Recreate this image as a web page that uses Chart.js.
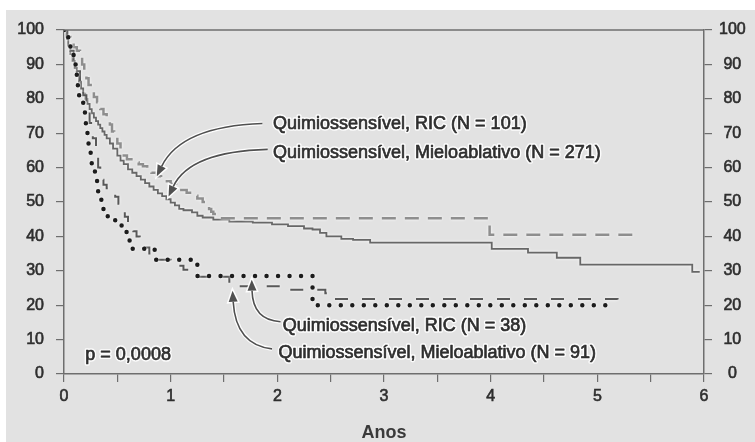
<!DOCTYPE html>
<html><head><meta charset="utf-8">
<script src="https://cdn.jsdelivr.net/npm/chart.js@4.4.0/dist/chart.umd.min.js"></script>
<style>html,body{margin:0;padding:0;background:#fff;} canvas{display:block;}</style>
</head><body>
<canvas id="c" width="755" height="442" style="width:755px;height:442px"></canvas>
<script>
// ---- data (years, % survival) ----
const xTickLabels = ['0','1','2','3','4','5','6'];
const yTickValues = [0,10,20,30,40,50,60,70,80,90,100];

const ric101Time = [0,0.03,0.06,0.09,0.12,0.15,0.17,0.19,0.21,0.23,0.25,0.28,0.31,0.34,0.37,0.4,0.43,0.45,0.47,0.5,0.53,0.56,0.59,0.65,0.7,0.74,0.78,0.82,0.87,0.91,0.95,1.0,1.05,1.1,1.15,1.2,1.25,1.3,1.33,1.36,1.38,1.4,1.43,3.99,5.37];
const ric101Surv = [100,98,96.5,95,94,92.5,90,88,86,84,82.5,80.5,79,77,75.5,74,72.5,70.5,69,67,65,63.5,62.4,61.5,61,60.4,59.5,58.5,57.5,56.8,56,55.2,54.5,53.5,52.7,51.8,51,50,49,48,47.2,46.5,45.3,40.5,40.5];

const mielo271Time = [0,0.02,0.04,0.06,0.08,0.1,0.12,0.14,0.16,0.18,0.2,0.22,0.24,0.26,0.28,0.3,0.32,0.34,0.36,0.38,0.4,0.43,0.46,0.5,0.53,0.56,0.6,0.64,0.68,0.72,0.76,0.8,0.84,0.88,0.92,0.96,1.0,1.04,1.08,1.12,1.2,1.25,1.3,1.4,1.55,1.77,1.95,2.1,2.25,2.33,2.4,2.46,2.6,2.71,2.87,4.01,4.35,4.62,4.84,5.89,5.96];
const mielo271Surv = [100,98,95.5,93,91,89,87,85,83,81.5,80,78.5,77,75.8,74.5,73.5,72.5,71.5,70.5,69.5,68.5,67,65.5,63.5,62,61,59.5,58.5,57.5,56.5,55.5,54.5,53.5,52.5,51.7,50.8,49.8,49,48,47.6,47,46,45.5,44.9,44.3,44,43.5,43,42.3,42,41,40,39.3,39,38.2,36.4,35.3,33.8,31.8,29.7,29.7];

const ric38Time = [0,0.02,0.04,0.06,0.08,0.09,0.1,0.11,0.12,0.125,0.13,0.15,0.18,0.19,0.2,0.205,0.21,0.22,0.23,0.235,0.24,0.25,0.26,0.275,0.29,0.3,0.31,0.32,0.335,0.35,0.37,0.39,0.41,0.45,0.48,0.51,0.54,0.57,0.59,0.615,0.64,0.85,1.25,2.33,5.12];
const ric38Surv = [100,98,96,94.5,93,91.5,90,88.5,87,84,81,79.5,78,76,74.5,72.5,70.5,68.5,67,65.5,64.4,62.5,61,59.5,58,56.5,55,53,51.5,50,47.8,46.5,45.5,44.8,44.3,43.6,42.9,41.3,39.6,38,36.4,33.2,28.5,20,20];

const mielo91Time = [0,0.03,0.06,0.09,0.12,0.15,0.18,0.21,0.24,0.27,0.3,0.32,0.34,0.37,0.4,0.44,0.48,0.51,0.54,0.57,0.6,0.625,0.65,0.68,0.71,0.75,0.8,0.87,1.0,1.05,1.12,1.2,1.25,1.55,2.05,2.45,2.5,5.19];
const mielo91Surv = [100,97,94,91,88,84.5,81,77,73,68.5,64,60,56.5,55,54,52.7,51.5,49.5,47.5,45.7,44,42.7,41.5,40,38.5,36.8,35,33.2,32.5,31.5,30.3,29.5,28.3,25.5,24.5,23.5,21.8,17.8];

const labelTexts = ['Quimiossensível, RIC (N = 101)','Quimiossensível, Mieloablativo (N = 271)','Quimiossensível, RIC (N = 38)','Quimiossensível, Mieloablativo (N = 91)'];
const pValueText = 'p = 0,0008';

// annotation anchors in data units (years, %)
const annotations = {
  labelX:[1.96,1.96,2.05,2.01], labelY:[72.6,64.1,14.0,6.1],
  startX:[1.86,1.91,2.03,1.95], startY:[72.8,65.3,15.2,7.3],
  ctrlX:[1.1,1.18,1.77,1.61],   ctrlY:[72,64.7,15.7,8.5],
  tipX:[0.87,0.98,1.76,1.58],   tipY:[57.5,51.6,27.4,24.2],
  pX:0.2, pY:5.5
};

const zip = (t,s)=>t.map((v,i)=>({x:v,y:s[i]}));
const FONT = "'Liberation Sans', Arial, Helvetica, sans-serif";
const TXT = '#2e2e2e';
const AX = '#6e6e6e';

const deco = {
  id:'deco',
  beforeDraw(chart){
    const c = chart.ctx, w = chart.width, h = chart.height;
    c.save();
    c.fillStyle = '#ffffff'; c.fillRect(0,0,w,h);
    c.fillStyle = '#e2e2e2'; c.fillRect(6,10,w-6,h-10);
    c.restore();
  },
  beforeDatasetsDraw(chart){
    const c = chart.ctx; c.save();
    c.shadowColor = 'rgba(255,255,255,1)'; c.shadowBlur = 3;
  },
  afterDatasetsDraw(chart){
    chart.ctx.restore();
  },
  afterDraw(chart){
    const c = chart.ctx, a = chart.chartArea;
    const xs = chart.scales.x, ys = chart.scales.y;
    c.save();
    c.strokeStyle = AX; c.lineWidth = 1.5;
    c.beginPath(); c.moveTo(a.left, a.top); c.lineTo(a.right, a.top); c.stroke();
    for (let i=0;i<4;i++){
      const sx = xs.getPixelForValue(annotations.startX[i]), sy = ys.getPixelForValue(annotations.startY[i]);
      const cx = xs.getPixelForValue(annotations.ctrlX[i]), cy = ys.getPixelForValue(annotations.ctrlY[i]);
      const tx = xs.getPixelForValue(annotations.tipX[i]), ty = ys.getPixelForValue(annotations.tipY[i]);
      const ang = Math.atan2(ty-cy, tx-cx);
      const L = 11, W = 4.5;
      const bx = tx - L*Math.cos(ang), by = ty - L*Math.sin(ang);
      for (const pass of [0,1]){
        c.strokeStyle = pass? '#505050' : 'rgba(255,255,255,0.95)';
        c.fillStyle = c.strokeStyle;
        c.lineWidth = pass? 1.6 : 4;
        c.beginPath(); c.moveTo(sx,sy); c.quadraticCurveTo(cx,cy,bx,by); c.stroke();
        c.beginPath();
        c.moveTo(tx,ty);
        c.lineTo(bx + W*Math.sin(ang), by - W*Math.cos(ang));
        c.lineTo(bx - W*Math.sin(ang), by + W*Math.cos(ang));
        c.closePath();
        if (pass) c.fill(); else { c.lineWidth=3; c.stroke(); }
      }
    }
    c.font = '18px ' + FONT;
    c.textBaseline = 'middle'; c.textAlign = 'left';
    c.lineJoin = 'round';
    const drawT = (t,x,y)=>{
      c.strokeStyle = 'rgba(255,255,255,0.9)'; c.lineWidth = 3.5; c.strokeText(t,x,y);
      c.strokeStyle = TXT; c.lineWidth = 0.7; c.strokeText(t,x,y);
      c.fillStyle = TXT; c.fillText(t,x,y);
    };
    for (let i=0;i<4;i++){
      drawT(labelTexts[i], xs.getPixelForValue(annotations.labelX[i]), ys.getPixelForValue(annotations.labelY[i]));
    }
    drawT(pValueText, xs.getPixelForValue(annotations.pX), ys.getPixelForValue(annotations.pY));
    c.restore();
  }
};

const yAxis = (pos, width, cross, pad) => ({
  type:'linear', position:pos, min:0, max:100,
  afterBuildTicks(s){ s.ticks = yTickValues.map(v=>({value:v})); },
  ticks:{ font:{family:FONT, size:16}, color:TXT, padding:pad, crossAlign:cross, textStrokeColor:TXT, textStrokeWidth:0.6 },
  grid:{ drawOnChartArea:false, drawTicks:true, tickLength:8, color:AX, lineWidth:1.2 },
  border:{ color:AX, width:1.5 },
  afterFit(s){ s.width = width; }
});

new Chart(document.getElementById('c'), {
  type:'line',
  data:{ datasets:[
    { label:'Quimiossensível, RIC (N = 38)', data:zip(ric38Time, ric38Surv), borderColor:'#1c1c1c', borderWidth:4.5, borderDash:[0,11.5], borderCapStyle:'round', stepped:'before', pointRadius:0, fill:false },
    { label:'Quimiossensível, Mieloablativo (N = 91)', data:zip(mielo91Time, mielo91Surv), borderColor:'#585858', borderWidth:2, borderDash:[13,14], stepped:'before', pointRadius:0, fill:false },
    { label:'Quimiossensível, RIC (N = 101)', data:zip(ric101Time, ric101Surv), borderColor:'#8e8e8e', borderWidth:2.5, borderDash:[14,9], stepped:'before', pointRadius:0, fill:false },
    { label:'Quimiossensível, Mieloablativo (N = 271)', data:zip(mielo271Time, mielo271Surv), borderColor:'#676767', borderWidth:1.8, stepped:'before', pointRadius:0, fill:false }
  ]},
  options:{
    responsive:false, animation:false, devicePixelRatio:1,
    layout:{ padding:{ top:30, left:0, right:0, bottom:0 } },
    plugins:{ legend:{display:false}, tooltip:{enabled:false} },
    scales:{
      x:{
        type:'linear', position:'bottom', min:0, max:6,
        ticks:{ stepSize:0.5, autoSkip:false, maxRotation:0, padding:5,
          callback:(v)=> Number.isInteger(v) ? xTickLabels[v] : '',
          font:{family:FONT, size:16}, color:TXT, textStrokeColor:TXT, textStrokeWidth:0.6 },
        grid:{ drawOnChartArea:false, drawTicks:true, tickLength:8, color:AX, lineWidth:1.2 },
        border:{ color:AX, width:1.5 },
        title:{ display:true, text:'Anos', font:{family:FONT, size:18, weight:'bold', lineHeight:1}, color:'#3a3a3a', padding:{top:0,bottom:0} },
        afterFit(s){ s.height = 68; }
      },
      y: yAxis('left', 64, 'near', 12),
      y2: yAxis('right', 51, 'center', 7)
    }
  },
  plugins:[deco]
});
</script>
</body></html>
